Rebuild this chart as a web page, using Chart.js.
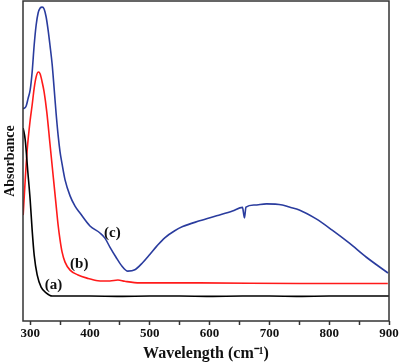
<!DOCTYPE html>
<html>
<head>
<meta charset="utf-8">
<script src="https://cdn.jsdelivr.net/npm/chart.js@4"></script>
<style>
  html, body { margin: 0; padding: 0; background: #fff; }
  #wrap { width: 400px; height: 362px; }
</style>
</head>
<body>
<div id="wrap"><canvas id="chart"></canvas></div>
<script>
// x ticks (labels only on hundreds)
const xTicks = [300, 350, 400, 450, 500, 550, 600, 650, 700, 750, 800, 850, 900];

// curve (a), black
const waveA = [288.3, 291.7, 295.8, 300, 303.3, 306.7, 311.7, 318.3, 326.7, 336.7, 350, 400, 450, 500, 550, 600, 655, 700, 750, 800, 850, 900];
const absA  = [0.603, 0.566, 0.472, 0.378, 0.284, 0.206, 0.144, 0.106, 0.088, 0.078, 0.078, 0.078, 0.077, 0.078, 0.078, 0.077, 0.078, 0.078, 0.077, 0.078, 0.078, 0.078];

// curve (b), red
const waveB = [288.3, 291.7, 295, 300, 303.3, 306.7, 310, 313.8, 316.7, 320, 323.3, 327.8, 333.3, 338.8, 343.3, 346.7, 350, 353.3, 358.3, 366.7, 380, 395, 413.3, 433.3, 446.7, 458.3, 483.3, 583.3, 750, 898];
const absB  = [0.331, 0.441, 0.534, 0.628, 0.675, 0.728, 0.763, 0.778, 0.772, 0.747, 0.716, 0.653, 0.55, 0.447, 0.363, 0.30, 0.253, 0.216, 0.184, 0.159, 0.144, 0.134, 0.126, 0.125, 0.128, 0.124, 0.119, 0.119, 0.117, 0.117];

// curve (c), blue
const waveC = [288.3, 293.3, 296.7, 300, 303.3, 306.7, 310, 313.3, 316.7, 320, 323.3, 326.7, 330, 333.3, 336.7, 340, 343.3, 346.7, 350, 353.3, 358.3, 366.7, 375, 383.3, 400, 416.7, 425, 433.3, 443.3, 453.3, 463.3, 475, 488.3, 500, 511.7, 525, 541.7, 555, 583.3, 611.7, 638.3, 655, 658.3, 660.8, 675, 695, 721.7, 733.3, 750, 778.3, 805, 833.3, 861.7, 898.3];
const absC  = [0.6625, 0.672, 0.697, 0.722, 0.778, 0.8625, 0.925, 0.9625, 0.978, 0.981, 0.975, 0.95, 0.909, 0.859, 0.803, 0.728, 0.65, 0.581, 0.528, 0.491, 0.441, 0.391, 0.359, 0.3375, 0.297, 0.275, 0.259, 0.231, 0.2, 0.172, 0.156, 0.16, 0.183, 0.208, 0.234, 0.26, 0.282, 0.295, 0.313, 0.329, 0.344, 0.355, 0.322, 0.356, 0.3625, 0.366, 0.3625, 0.356, 0.347, 0.319, 0.284, 0.244, 0.2, 0.15];

// curve tags, placed in data units
const tagText = ['(a)', '(b)', '(c)'];
const tagWave = [339, 382, 437.5];
const tagAbs  = [0.112, 0.178, 0.275];

const serif = '"Liberation Serif", "Times New Roman", serif';

function pts(xs, ys) {
    return xs.map((x, i) => ({ x: x, y: ys[i] }));
}

const frame = {
    id: 'frame',
    afterDraw(chart) {
        const { ctx, chartArea: a, scales } = chart;
        ctx.save();
        ctx.strokeStyle = '#333';
        ctx.lineWidth = 1.5;
        ctx.strokeRect(a.left, a.top, a.right - a.left, a.bottom - a.top);
        ctx.fillStyle = '#111';
        ctx.font = 'bold 15px ' + serif;
        ctx.textAlign = 'center';
        ctx.textBaseline = 'middle';
        tagText.forEach((t, i) => {
            ctx.fillText(t, scales.x.getPixelForValue(tagWave[i]), scales.y.getPixelForValue(tagAbs[i]));
        });
        ctx.restore();
    }
};

new Chart(document.getElementById('chart'), {
    type: 'line',
    data: {
        datasets: [
            { label: '(a)', data: pts(waveA, absA), borderColor: '#000000' },
            { label: '(b)', data: pts(waveB, absB), borderColor: '#ff1a1a' },
            { label: '(c)', data: pts(waveC, absC), borderColor: '#2a3c9e' }
        ]
    },
    options: {
        responsive: true,
        maintainAspectRatio: false,
        animation: false,
        layout: { padding: { top: 1, right: 11, left: 0, bottom: 0 } },
        elements: {
            point: { radius: 0 },
            line: { borderWidth: 1.6, cubicInterpolationMode: 'monotone', fill: false }
        },
        plugins: {
            legend: { display: false },
            tooltip: { enabled: false }
        },
        scales: {
            x: {
                type: 'linear',
                min: 288,
                max: 900,
                afterBuildTicks: (s) => { s.ticks = xTicks.map(v => ({ value: v })); },
                afterFit: (s) => { s.height = 41; },
                ticks: {
                    autoSkip: false,
                    maxRotation: 0,
                    padding: 1,
                    color: '#111',
                    font: { family: serif, size: 13, weight: 'bold' },
                    callback: (v) => (v % 100 === 0 ? v : '')
                },
                grid: { drawOnChartArea: false, tickLength: 4, tickWidth: 1.5, tickColor: '#333' },
                border: { display: false },
                title: {
                    display: true,
                    text: 'Wavelength (cm\u207B\u00B9)',
                    color: '#111',
                    font: { family: serif, size: 16, weight: 'bold' },
                    padding: { top: 0, bottom: -1 }
                }
            },
            y: {
                min: 0,
                max: 1,
                afterFit: (s) => { s.width = 23; },
                ticks: { display: false },
                grid: { display: false },
                border: { display: false },
                title: {
                    display: true,
                    text: 'Absorbance',
                    color: '#111',
                    font: { family: serif, size: 14, weight: 'bold' },
                    padding: { top: 2, bottom: 0 }
                }
            }
        }
    },
    plugins: [frame]
});
</script>
</body>
</html>
